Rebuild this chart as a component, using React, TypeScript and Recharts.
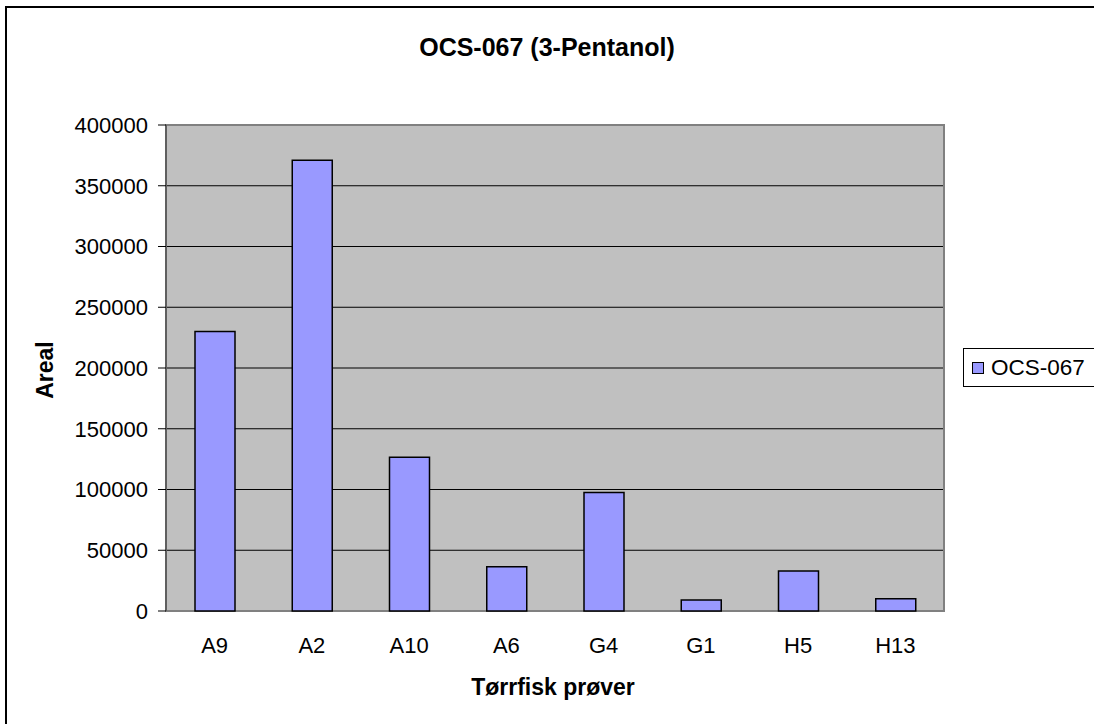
import { BarChart, Bar, XAxis, YAxis, CartesianGrid, ReferenceArea } from "recharts";

const samples = ["A9", "A2", "A10", "A6", "G4", "G1", "H5", "H13"];
const areal = [230000, 371000, 126500, 36500, 97500, 9000, 33000, 10000];
const yTicks = [0, 50000, 100000, 150000, 200000, 250000, 300000, 350000, 400000];
const edgeTicks = [0, 1, 2, 3, 4, 5, 6, 7, 8];

const data = samples.map((s, i) => ({ name: s, value: areal[i] }));

const font = "'Liberation Sans', Arial, sans-serif";

export default function App() {
  return (
    <div style={{ position: "absolute", left: 0, top: 0, width: 1094, height: 724, background: "#fff", overflow: "hidden" }}>
      {/* outer chart frame, only left and top edges fall inside the picture */}
      <div
        style={{
          position: "absolute",
          left: 5,
          top: 6,
          width: 1089,
          height: 718,
          borderTop: "2px solid #000",
          borderLeft: "2px solid #000",
          boxSizing: "border-box",
        }}
      />
      <div
        style={{
          position: "absolute",
          left: 0,
          width: 1094,
          top: 32,
          textAlign: "center",
          fontFamily: font,
          fontWeight: "bold",
          fontSize: 25,
          lineHeight: "30px",
        }}
      >
        OCS-067 (3-Pentanol)
      </div>
      <div
        style={{
          position: "absolute",
          left: 45,
          top: 370,
          transform: "translate(-50%, -50%) rotate(-90deg)",
          fontFamily: font,
          fontWeight: "bold",
          fontSize: 23,
          lineHeight: "26px",
        }}
      >
        Areal
      </div>
      <div
        style={{
          position: "absolute",
          left: 553,
          top: 687,
          transform: "translate(-50%, -50%)",
          fontFamily: font,
          fontWeight: "bold",
          fontSize: 23,
          lineHeight: "26px",
          whiteSpace: "nowrap",
        }}
      >
        Tørrfisk prøver
      </div>
      <div
        style={{
          position: "absolute",
          left: 963,
          top: 348,
          width: 131,
          height: 39,
          borderTop: "1px solid #000",
          borderLeft: "1px solid #000",
          borderBottom: "1px solid #000",
          background: "#fff",
          display: "flex",
          alignItems: "center",
          fontFamily: font,
          fontSize: 22.5,
          boxSizing: "border-box",
          whiteSpace: "nowrap",
        }}
      >
        <span
          style={{
            display: "inline-block",
            width: 10,
            height: 10,
            background: "#9999ff",
            border: "1px solid #000",
            marginLeft: 8,
            marginRight: 7,
          }}
        />
        OCS-067
      </div>
      <div style={{ position: "absolute", left: 0, top: 0 }}>
        <BarChart
          width={1094}
          height={724}
          data={data}
          margin={{ top: 125, right: 150, bottom: 0, left: 0 }}
          barSize={40}
        >
          <CartesianGrid
            xAxisId="cat"
            vertical={false}
            horizontal
            stroke="#000"
            strokeWidth={1}
            fill="#c0c0c0"
            fillOpacity={1}
          />
          <XAxis
            xAxisId="edges"
            type="number"
            domain={[0, 8]}
            ticks={edgeTicks}
            tick={false}
            height={0}
            tickSize={7}
            axisLine={{ stroke: "#000", strokeWidth: 1.5 }}
            tickLine={{ stroke: "#555" }}
          />
          <XAxis
            xAxisId="cat"
            dataKey="name"
            height={113}
            axisLine={false}
            tickLine={false}
            tickSize={0}
            tickMargin={26}
            interval={0}
            tick={{ fill: "#000", fontFamily: font, fontSize: 22 }}
          />
          <YAxis
            width={166}
            domain={[0, 400000]}
            ticks={yTicks}
            interval={0}
            tickSize={8}
            tickMargin={10}
            axisLine={{ stroke: "#555", strokeWidth: 1.5 }}
            tickLine={{ stroke: "#000" }}
            tick={{ fill: "#000", fontFamily: font, fontSize: 22 }}
          />
          <ReferenceArea
            xAxisId="cat"
            y1={0}
            y2={400000}
            stroke="#808080"
            strokeWidth={2}
            fill="none"
            fillOpacity={0}
            ifOverflow="visible"
          />
          <Bar
            xAxisId="cat"
            dataKey="value"
            name="OCS-067"
            fill="#9999ff"
            stroke="#000"
            strokeWidth={1.5}
            isAnimationActive={false}
          />
        </BarChart>
      </div>
    </div>
  );
}
